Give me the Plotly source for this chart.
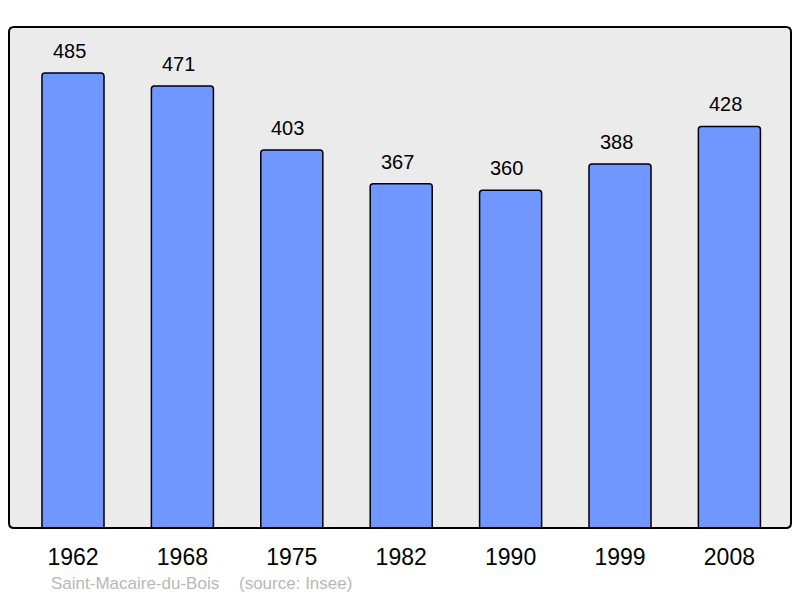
import plotly.graph_objects as go

years = ["1962", "1968", "1975", "1982", "1990", "1999", "2008"]
population = [485, 471, 403, 367, 360, 388, 428]
commune = "Saint-Macaire-du-Bois"
source = "(source: Insee)"

W, H = 800, 598
ml, mr, mt, mb = 9, 9, 27, 70

fig = go.Figure()
fig.add_trace(go.Bar(
    x=list(range(len(years))), y=population,
    width=0.567,
    marker=dict(color="#7096ff", line=dict(color="#000000", width=1.5), cornerradius=3),
    hoverinfo="skip",
))

for i, v in enumerate(population):
    fig.add_annotation(x=i, y=v, text=str(v), showarrow=False, yanchor="bottom",
                       yshift=9, xshift=-4,
                       font=dict(size=20, color="#000000", family="Liberation Sans"))

# rounded frame
pw = W - ml - mr
ph = H - mt - mb
r = 5
rx, ry = r / pw, r / ph
path = (f"M {rx},0 L {1-rx},0 Q 1,0 1,{ry} L 1,{1-ry} Q 1,1 {1-rx},1 "
        f"L {rx},1 Q 0,1 0,{1-ry} L 0,{ry} Q 0,0 {rx},0 Z")
fig.add_shape(type="path", xref="paper", yref="paper", path=path,
              line=dict(color="#000000", width=2), layer="above")

ys = -(583 - mt - ph) / ph
fig.add_annotation(xref="paper", yref="paper", x=(49 - ml) / pw, y=ys,
                   text=commune, showarrow=False, xanchor="left", yanchor="middle",
                   font=dict(size=17, color="#b8b8b8", family="Liberation Sans"))
fig.add_annotation(xref="paper", yref="paper", x=(237 - ml) / pw, y=ys,
                   text=source, showarrow=False, xanchor="left", yanchor="middle",
                   font=dict(size=17, color="#b8b8b8", family="Liberation Sans"))

fig.update_layout(
    width=W, height=H,
    margin=dict(l=ml, r=mr, t=mt, b=mb),
    paper_bgcolor="#ffffff", plot_bgcolor="#ebebeb",
    showlegend=False,
    font=dict(family="Liberation Sans"),
    xaxis=dict(range=[-0.585, 6.563], tickmode="array", tickvals=list(range(len(years))),
               ticktext=years, ticks="outside", ticklen=8, tickcolor="rgba(0,0,0,0)",
               tickfont=dict(size=23, color="#000000"), showgrid=False, zeroline=False,
               showline=False, fixedrange=True),
    yaxis=dict(range=[0, 534], showticklabels=False, showgrid=False, zeroline=False,
               showline=False, fixedrange=True),
)

fig.write_html("out.html", config={"displayModeBar": False},
               post_script="document.body.style.margin='0';document.body.style.overflow='hidden';")
